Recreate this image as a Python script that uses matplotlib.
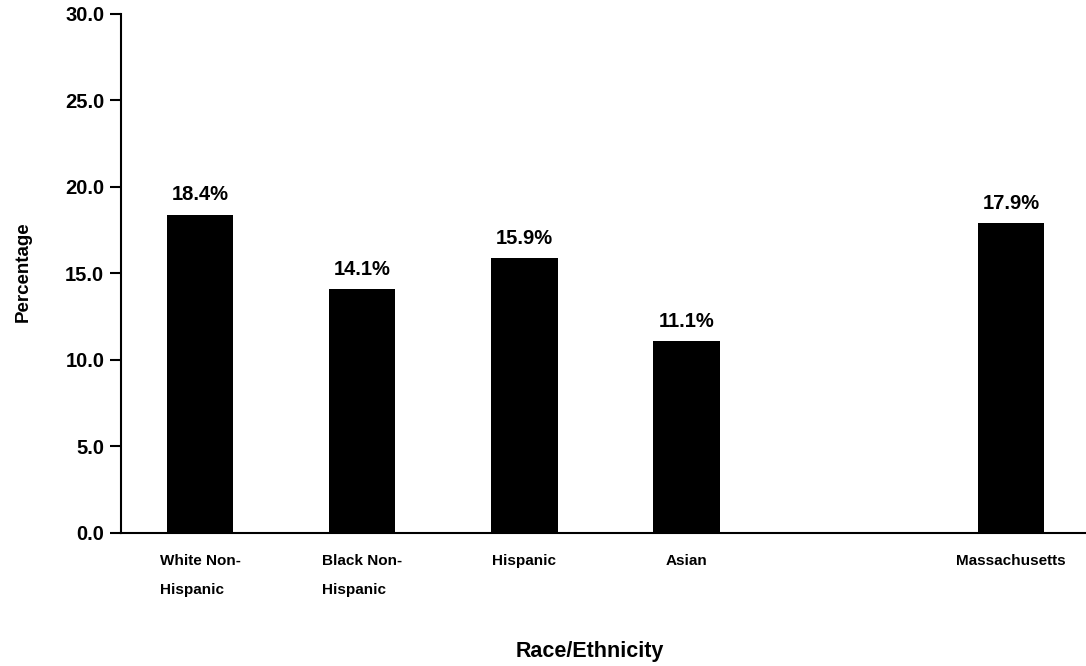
import matplotlib
matplotlib.use("Agg")
import matplotlib.pyplot as plt

categories = ["White Non-\nHispanic", "Black Non-\nHispanic", "Hispanic", "Asian", "Massachusetts"]
positions = [0, 1, 2, 3, 5]
values = [18.4, 14.1, 15.9, 11.1, 17.9]
yticks = [0, 5, 10, 15, 20, 25, 30]

plt.rcParams['font.family'] = ['Liberation Sans', 'DejaVu Sans']

fig = plt.figure(figsize=(10.86, 6.66), dpi=100)
ax = fig.add_axes([0.1114, 0.1997, 0.8886, 0.7793])

ax.bar(positions, values, width=0.41, color='black')
for p, v in zip(positions, values):
    ax.text(p, v + 0.6, f"{v:.1f}%", ha='center', va='bottom', fontsize=14.5, fontweight='bold')

ax.set_xlim(-0.487, 5.462)
ax.set_ylim(0, 30)
ax.set_yticks(yticks)
ax.set_yticklabels([f"{t:.1f}" for t in yticks], fontsize=14.5, fontweight='bold')
ax.tick_params(axis='y', direction='out', length=8, width=1.5, pad=4)
ax.set_xticks(positions)
ax.set_xticklabels([])
ax.tick_params(axis='x', length=0)
for p, c in zip(positions, categories):
    ax.text(p, -1.2, c, ha='center', va='top', multialignment='left', fontsize=11,
            fontweight='bold', linespacing=2.35, transform=ax.transData)

for s in ['top', 'right']:
    ax.spines[s].set_visible(False)
ax.spines['left'].set_linewidth(1.5)
ax.spines['bottom'].set_linewidth(1.5)

fig.text(0.021, 0.592, "Percentage", rotation=90, ha='center', va='center', fontsize=13.5, fontweight='bold')
fig.text(0.543, 0.022, "Race/Ethnicity", ha='center', va='center', fontsize=15.5, fontweight='bold')

fig.savefig("out.png", dpi=100)
